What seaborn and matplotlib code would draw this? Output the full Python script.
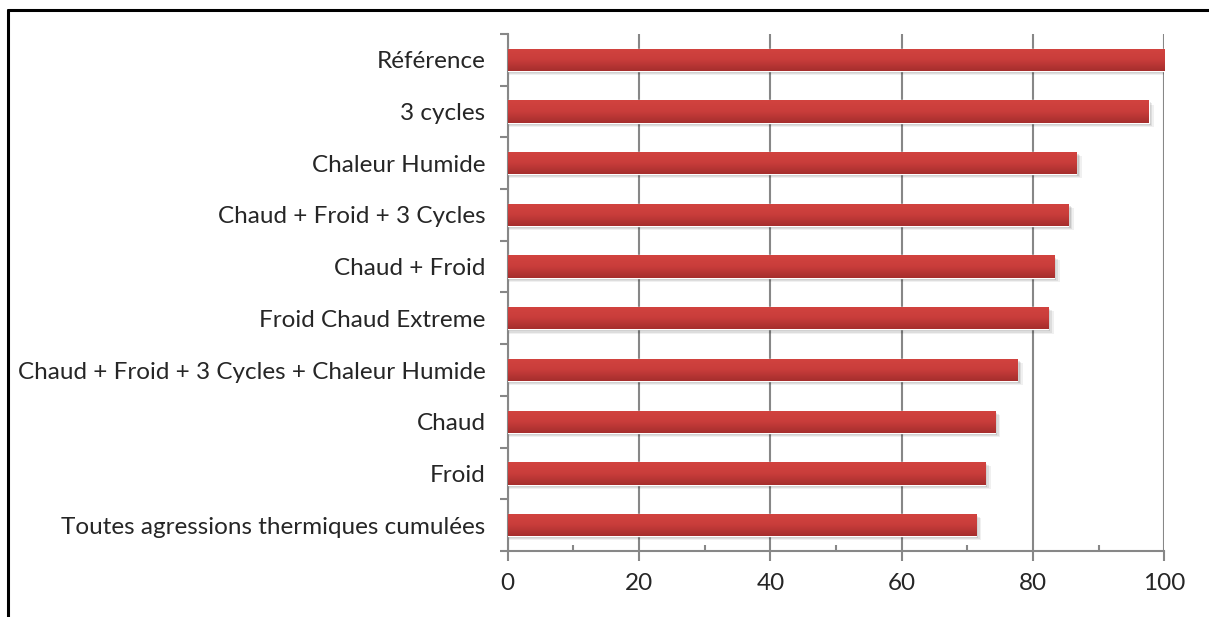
import numpy as np
import pandas as pd
import seaborn as sns
import matplotlib.pyplot as plt
from matplotlib.patches import Rectangle
from matplotlib.lines import Line2D
from matplotlib.colors import LinearSegmentedColormap

# -----------------------------
# Data
# -----------------------------
categories = [
    "Référence",
    "3 cycles",
    "Chaleur Humide",
    "Chaud + Froid + 3 Cycles",
    "Chaud + Froid",
    "Froid Chaud Extreme",
    "Chaud + Froid + 3 Cycles + Chaleur Humide",
    "Chaud",
    "Froid",
    "Toutes agressions thermiques cumulées",
]
values = [100, 97.6, 86.6, 85.4, 83.2, 82.3, 77.6, 74.2, 72.7, 71.3]
x_ticks = [0, 20, 40, 60, 80, 100]

df = pd.DataFrame({"label": categories, "value": values})

# -----------------------------
# Style
# -----------------------------
sns.set_style("white")
plt.rcParams["font.family"] = ["Lato", "DejaVu Sans"]
axis_grey = "#878787"

fig = plt.figure(figsize=(12.09, 6.17), dpi=100)
ax = fig.add_axes([0.420, 0.107, 0.543, 0.838])

bar_h = 0.43
sns.barplot(data=df, x="value", y="label", orient="h", color="#c0393a",
            width=bar_h, saturation=1, ax=ax, zorder=3)

# gradient + soft shadow on each bar
grad = LinearSegmentedColormap.from_list("red_grad", ["#d2433f", "#c93d3b", "#a52e2d"])
gimg = np.linspace(0, 1, 64).reshape(-1, 1)
for p in ax.patches:
    x0, y0 = p.get_x(), p.get_y()
    w, h = p.get_width(), p.get_height()
    for k, a in enumerate([0.10, 0.08, 0.06]):
        off_x = 0.35 + 0.25 * k
        off_y = 0.04 + 0.02 * k
        ax.add_patch(Rectangle((x0 + 0.2, y0 + off_y), w + off_x - 0.2, h,
                               color="black", alpha=a, lw=0, zorder=2))
    im = ax.imshow(gimg, cmap=grad, aspect="auto", extent=[x0, x0 + w, y0 + h, y0],
                   zorder=4, interpolation="bilinear")
    im.set_clip_path(p)

ax.set_xlim(0, 100)
ax.set_ylim(len(categories) - 0.5, -0.5)
ax.set_xlabel("")
ax.set_ylabel("")

# grid and spines
ax.set_xticks(x_ticks)
ax.set_xticks([10, 30, 50, 70, 90], minor=True)
ax.xaxis.grid(True, which="major", color=axis_grey, lw=1.5, zorder=0)
ax.set_axisbelow(True)
for s in ["top", "right"]:
    ax.spines[s].set_visible(False)
for s in ["left", "bottom"]:
    ax.spines[s].set_color(axis_grey)
    ax.spines[s].set_linewidth(1.5)

ax.tick_params(axis="x", which="major", direction="out", length=7, width=1.5,
               color=axis_grey, labelsize=17.5, pad=9, bottom=True)
ax.tick_params(axis="x", which="minor", direction="in", length=4, width=1.5,
               color=axis_grey, bottom=True)

ax.set_yticks(np.arange(-0.5, len(categories), 1.0), minor=True)
ax.tick_params(axis="y", which="major", length=0, labelsize=17.5, pad=16)
ax.tick_params(axis="y", which="minor", direction="out", length=6, width=1.5,
               color=axis_grey, left=True)

# frame lines around the figure (left and top only visible)
fig.add_artist(Line2D([0.0066, 0.0066], [0, 0.984], color="black", lw=2.2,
                      transform=fig.transFigure))
fig.add_artist(Line2D([0.0066, 1.0], [0.984, 0.984], color="black", lw=2.2,
                      transform=fig.transFigure))

fig.savefig("out.png", dpi=100)
